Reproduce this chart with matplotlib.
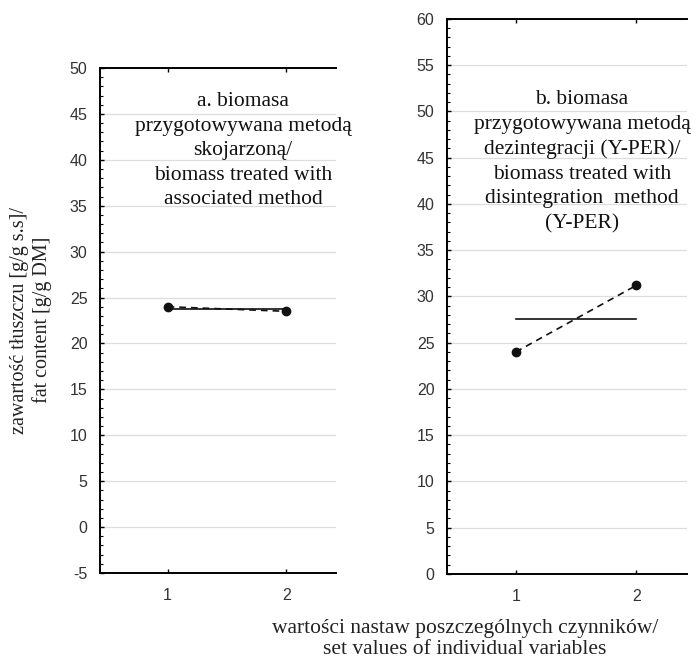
import matplotlib
matplotlib.use("Agg")
import matplotlib.pyplot as plt
from matplotlib.ticker import MultipleLocator

plt.rcParams['axes.unicode_minus'] = False

# data
levels = [1, 2]
fat_a = [24.0, 23.5]      # biomass treated with associated method
fat_b = [24.0, 31.2]      # biomass treated with disintegration method (Y-PER)

text_a = ("a. biomasa\nprzygotowywana metodą\nskojarzoną/\n"
          "biomass treated with\nassociated method")
text_b = ("b. biomasa\nprzygotowywana metodą\ndezintegracji (Y-PER)/\n"
          "biomass treated with\ndisintegration  method\n(Y-PER)")
ylab = "zawartość tłuszczu [g/g s.s]/\nfat content [g/g DM]"
xlab = "wartości nastaw poszczególnych czynników/\nset values of individual variables"

serif = ["Liberation Serif", "DejaVu Serif"]
sans = ["Liberation Sans", "DejaVu Sans"]

fig = plt.figure(figsize=(6.96, 6.59), dpi=100)
ax1 = fig.add_axes([0.1437, 0.1305, 0.3393, 0.7663])
ax2 = fig.add_axes([0.6422, 0.1290, 0.3448, 0.8422])


def style_axes(ax, ylim, step):
    ax.set_xlim(0.43, 2.42)
    ax.set_ylim(*ylim)
    ax.set_xticks(levels)
    ax.yaxis.set_major_locator(MultipleLocator(step))
    ax.yaxis.set_minor_locator(MultipleLocator(1))
    ax.spines['right'].set_visible(False)
    for s in ['left', 'bottom', 'top']:
        ax.spines[s].set_linewidth(1.4)
    ax.tick_params(axis='both', which='major', direction='in', length=3,
                   width=1, labelsize=11.5, labelcolor='#333333', pad=9)
    ax.tick_params(axis='y', which='minor', direction='in', length=2, width=0.8)
    ax.tick_params(axis='x', top=True, pad=11)
    for lab in ax.get_xticklabels() + ax.get_yticklabels():
        lab.set_family(sans)
    ax.grid(axis='y', color='#dddddd', linewidth=0.9)
    ax.set_axisbelow(True)


def draw(ax, vals):
    mean = sum(vals) / len(vals)
    ax.plot(levels, [mean, mean], color='#111111', lw=1.2)
    ax.plot(levels, vals, color='#111111', lw=1.2, ls=(0, (4, 3)),
            marker='o', ms=6)


draw(ax1, fat_a)
style_axes(ax1, (-5, 50), 5)
draw(ax2, fat_b)
style_axes(ax2, (0, 60), 5)

fig.text(243 / 696, 1 - 92 / 659, text_a, ha='center', va='top',
         family=serif, fontsize=15.5, linespacing=1.4, color='#111111')
fig.text(582 / 696, 1 - 90 / 659, text_b, ha='center', va='top',
         family=serif, fontsize=15.5, linespacing=1.4, color='#111111')

fig.text(31 / 696, 1 - 320 / 659, ylab, rotation=90, ha='center', va='center',
         family=serif, fontsize=14.5, linespacing=1.2, color='#222222')
fig.text(465 / 696, 1 - 639 / 659, xlab, ha='center', va='center',
         family=serif, fontsize=15.5, linespacing=1.1, color='#222222')

fig.savefig("out.png", dpi=100)
